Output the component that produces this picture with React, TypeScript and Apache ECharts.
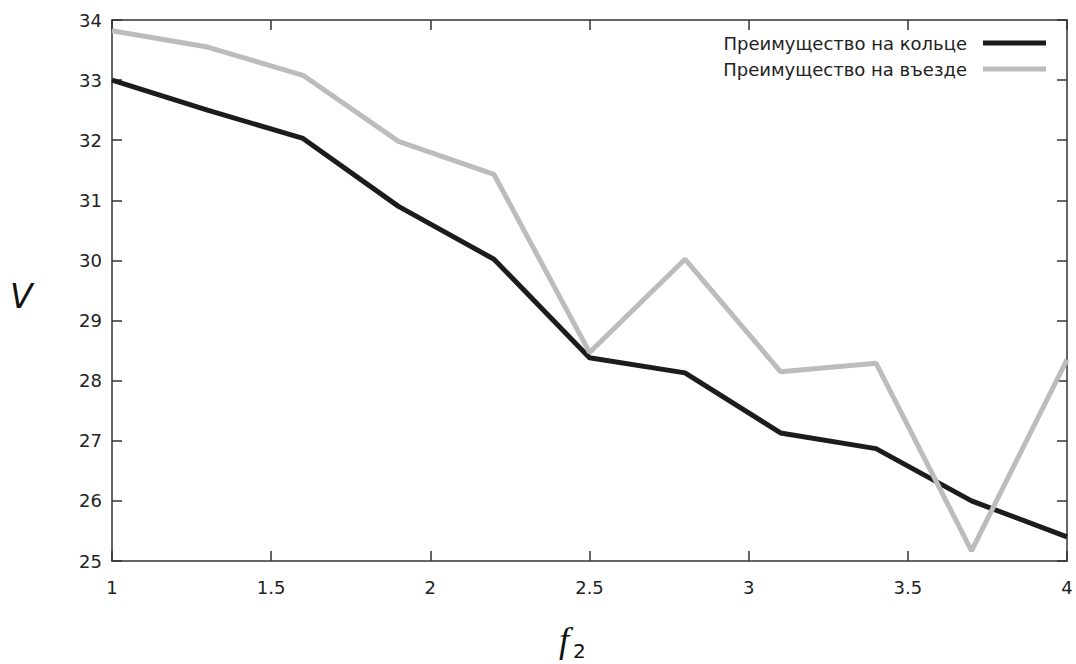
import React, { useEffect, useRef } from "react";
import * as echarts from "echarts";

const xValues = [1, 1.3, 1.6, 1.9, 2.2, 2.5, 2.8, 3.1, 3.4, 3.7, 4];
const ringValues = [33.0, 32.5, 32.03, 30.9, 30.02, 28.38, 28.13, 27.13, 26.87, 26.0, 25.4];
const entryValues = [33.82, 33.55, 33.08, 31.98, 31.43, 28.47, 30.02, 28.15, 28.29, 25.17, 28.35];
const seriesNames = ["Преимущество на кольце", "Преимущество на въезде"];

const FONT = "DejaVu Sans";

export default function App() {
  const ref = useRef<HTMLDivElement>(null);
  useEffect(() => {
    if (!ref.current) return;
    const chart = echarts.init(ref.current, undefined, { renderer: "svg" });
    const axisLine = { show: true, lineStyle: { color: "#333", width: 1.5 } };
    const tick = { show: true, inside: true, length: 10, lineStyle: { color: "#333", width: 1.5 } };
    chart.setOption({
      animation: false,
      backgroundColor: "#fff",
      grid: { left: 112, right: 9, top: 20, bottom: 103 },
      legend: {
        orient: "vertical",
        right: 25,
        top: 29,
        align: "right",
        itemWidth: 63,
        itemHeight: 5,
        itemGap: 8,
        icon: "rect",
        textStyle: { fontFamily: FONT, fontSize: 18, color: "#222", padding: [0, 11, 0, 0] },
        data: seriesNames,
      },
      xAxis: [
        {
          type: "value",
          min: 1,
          max: 4,
          interval: 0.5,
          axisLine,
          axisTick: tick,
          splitLine: { show: false },
          axisLabel: { fontFamily: FONT, fontSize: 18, color: "#222", margin: 17 },
        },
        {
          type: "value",
          position: "top",
          min: 1,
          max: 4,
          interval: 0.5,
          axisLine,
          axisTick: tick,
          splitLine: { show: false },
          axisLabel: { show: false },
        },
      ],
      yAxis: [
        {
          type: "value",
          min: 25,
          max: 34,
          interval: 1,
          axisLine,
          axisTick: tick,
          splitLine: { show: false },
          axisLabel: { fontFamily: FONT, fontSize: 18, color: "#222", margin: 10 },
        },
        {
          type: "value",
          position: "right",
          min: 25,
          max: 34,
          interval: 1,
          axisLine,
          axisTick: tick,
          splitLine: { show: false },
          axisLabel: { show: false },
        },
      ],
      graphic: [
        {
          type: "text",
          left: 10,
          top: 280,
          style: { text: "V", fontFamily: FONT, fontStyle: "italic", fontSize: 33, fill: "#111" },
        },
        {
          type: "text",
          x: 559,
          y: 640,
          style: {
            text: "f",
            fontFamily: "Liberation Serif",
            fontStyle: "italic",
            fontSize: 36,
            fill: "#111",
            align: "left",
            verticalAlign: "middle",
          },
        },
        {
          type: "text",
          x: 573,
          y: 651,
          style: {
            text: "2",
            fontFamily: FONT,
            fontSize: 20,
            fill: "#111",
            align: "left",
            verticalAlign: "middle",
          },
        },
      ],
      series: [
        {
          name: seriesNames[0],
          type: "line",
          data: xValues.map((x, i) => [x, ringValues[i]]),
          showSymbol: false,
          symbol: "none",
          lineStyle: { color: "#1c1c1c", width: 5 },
          itemStyle: { color: "#1c1c1c" },
        },
        {
          name: seriesNames[1],
          type: "line",
          data: xValues.map((x, i) => [x, entryValues[i]]),
          showSymbol: false,
          symbol: "none",
          lineStyle: { color: "#bcbcbc", width: 5 },
          itemStyle: { color: "#bcbcbc" },
        },
      ],
    });
    return () => chart.dispose();
  }, []);
  return <div ref={ref} style={{ width: 1076, height: 664, position: "absolute", left: 0, top: 0 }} />;
}
